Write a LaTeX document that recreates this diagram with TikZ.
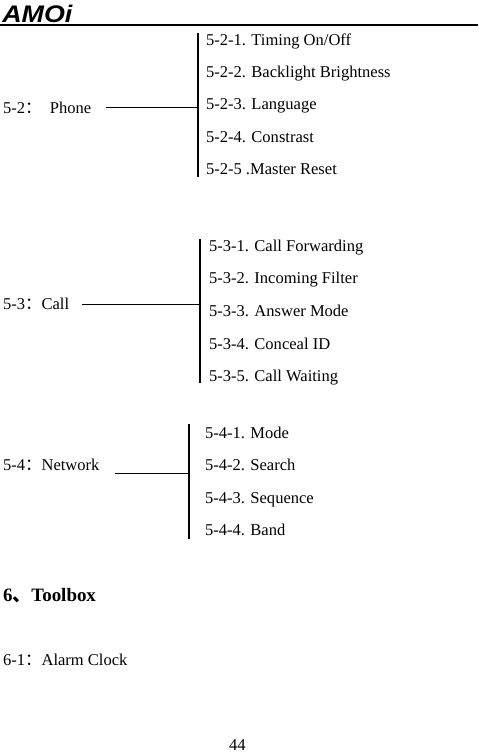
\documentclass[tikz,border=0pt]{standalone}
\usepackage{fontspec}
\setmainfont{Liberation Serif}
\newfontfamily\logofont{Liberation Sans}
\newfontfamily\cjk{Noto Sans CJK SC}
\newcommand{\cc}{{\cjk ：}}
\newcommand{\cd}{{\cjk 、}}
\tikzset{
 lbl/.style={anchor=base west,inner sep=0pt,outer sep=0pt,font=\fontsize{12.4pt}{14pt}\selectfont},
 bar/.style={line width=0.85pt,black},
 tie/.style={line width=0.75pt,black}
}
\begin{document}
\begin{tikzpicture}[x=0.75pt,y=-0.75pt]
\useasboundingbox (0,0) rectangle (478,752);
\fill[white] (0,0) rectangle (478,752);
% header
\node[anchor=base west,inner sep=0pt] (logo) at (2,22.5) {\logofont\bfseries\itshape\fontsize{18pt}{18pt}\selectfont\scalebox{1.12}[1]{AMOi}};
\coordinate (hl) at (0,25); \coordinate (hr) at (478,25);
\draw[line width=1.2pt] (hl) -- (hr);
% 5-2
\node[lbl] (a) at (3,114) {5-2\cc\ \ Phone};
\coordinate (a1) at (198,33); \coordinate (a2) at (198,177);
\coordinate (as) at (106,108); \coordinate (ae) at (198,108);
\draw[bar] (a1) -- (a2);
\draw[tie] (as) -- (ae);
\node[lbl] (a01) at (206,45.5) {5-2-1. Timing On/Off};
\node[lbl] (a02) at (206,78) {5-2-2. Backlight Brightness};
\node[lbl] (a03) at (206,110) {5-2-3. Language};
\node[lbl] (a04) at (206,143) {5-2-4. Constrast};
\node[lbl] (a05) at (206,175) {5-2-5 .Master Reset};
% 5-3
\node[lbl] (b) at (3,309) {5-3\cc Call};
\coordinate (b1) at (200,239); \coordinate (b2) at (200,383);
\coordinate (bs) at (82,304); \coordinate (be) at (200,304);
\draw[bar] (b1) -- (b2);
\draw[tie] (bs) -- (be);
\node[lbl] (b01) at (209,251) {5-3-1. Call Forwarding};
\node[lbl] (b02) at (209,283) {5-3-2. Incoming Filter};
\node[lbl] (b03) at (209,316) {5-3-3. Answer Mode};
\node[lbl] (b04) at (209,349) {5-3-4. Conceal ID};
\node[lbl] (b05) at (209,381) {5-3-5. Call Waiting};
% 5-4
\node[lbl] (c) at (3,470) {5-4\cc Network};
\coordinate (c1) at (189,424); \coordinate (c2) at (189,539);
\coordinate (cs) at (115,473); \coordinate (ce) at (189,473);
\draw[bar] (c1) -- (c2);
\draw[tie] (cs) -- (ce);
\node[lbl] (c01) at (205,438) {5-4-1. Mode};
\node[lbl] (c02) at (205,470) {5-4-2. Search};
\node[lbl] (c03) at (205,503) {5-4-3. Sequence};
\node[lbl] (c04) at (205,535) {5-4-4. Band};
% lower text
\node[lbl,font=\fontsize{14.2pt}{15pt}\selectfont\bfseries] (t) at (3,601) {6\cd Toolbox};
\node[lbl] (d) at (3,665) {6-1\cc Alarm Clock};
\node[lbl] (p) at (229,750) {44};
\end{tikzpicture}
\end{document}
